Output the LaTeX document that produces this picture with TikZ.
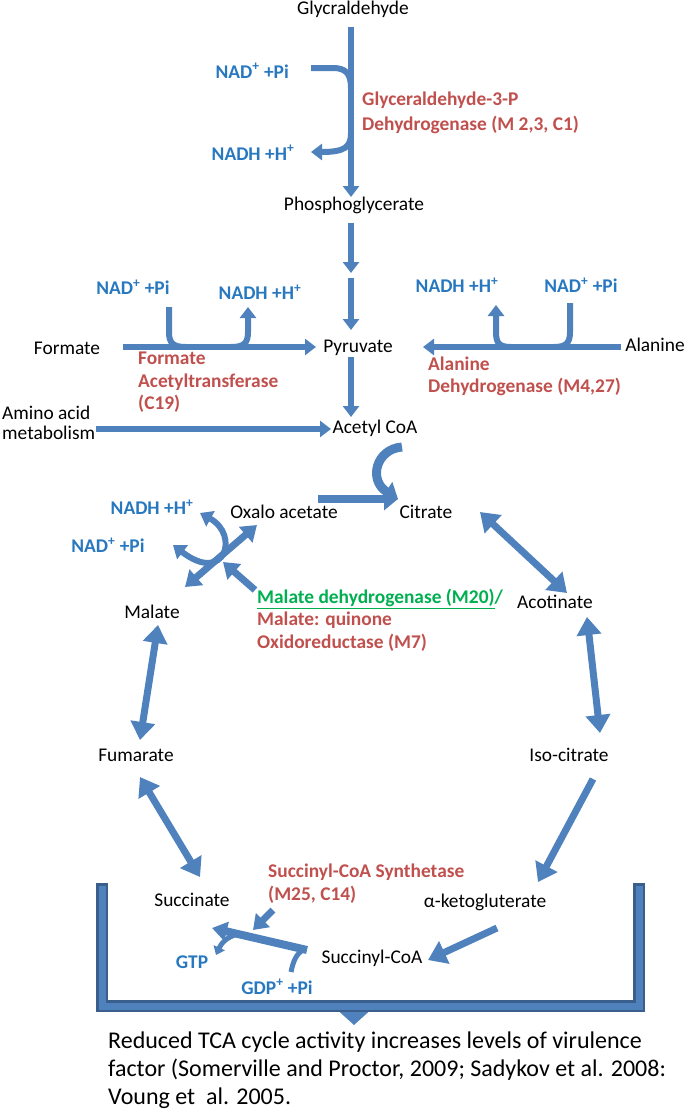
\documentclass[tikz,border=0pt]{standalone}
\usepackage{fontspec}
\setmainfont{Carlito}
\usepackage{xcolor}
\usetikzlibrary{arrows.meta}

\definecolor{arrblue}{HTML}{4F81BD}
\definecolor{brdark}{HTML}{3A5F8C}
\definecolor{cofblue}{HTML}{2878C0}
\definecolor{enzred}{HTML}{C0504D}
\definecolor{mdhgreen}{HTML}{00B050}

\tikzset{
  met/.style={font=\fontsize{19.4}{23}\selectfont, inner sep=0pt},
  cof/.style={font=\fontsize{19.4}{23}\selectfont\bfseries, text=cofblue, inner sep=0pt},
  enz/.style={font=\fontsize{19.4}{23}\selectfont\bfseries, text=enzred, inner sep=0pt, align=left, anchor=west},
  flow/.style={draw=arrblue, line width=6pt},
  arr/.style={flow, -{Triangle[width=16pt,length=11pt]}},
  mid/.style={draw=arrblue, line width=7pt, -{Triangle[width=20pt,length=15pt]}},
  midboth/.style={mid, {Triangle[width=20pt,length=15pt]}-{Triangle[width=20pt,length=15pt]}},
  big/.style={draw=arrblue, line width=7pt, -{Triangle[width=24pt,length=18pt]}},
  bigboth/.style={big, {Triangle[width=24pt,length=18pt]}-{Triangle[width=24pt,length=18pt]}},
}

\begin{document}
\begin{tikzpicture}[x=1pt,y=-1pt]
    \useasboundingbox (0,0) rectangle (685,1111);

    % Glycolysis
    \node[met] (glyc) at (353,9) {Glycraldehyde};
    \node[cof, anchor=east] (nadA) at (289,71) {NAD\textsuperscript{+} +Pi};
    \node[cof] (nadhA) at (253,153) {NADH +H\textsuperscript{+}};
    \node[enz, font=\fontsize{19.4}{25}\selectfont\bfseries] (gapdh) at (362,112.5) {Glyceraldehyde-3-P\\Dehydrogenase (M 2,3, C1)};
    \node[met] (phos) at (354,205) {Phosphoglycerate};

    \coordinate (g1) at (351,27);
    \coordinate (g2) at (351,197);
    \draw[arr] (g1) -- (g2);
    \coordinate (nadAin) at (311,68);
    \draw[flow] (nadAin) -- (333,68) .. controls (346,68) and (351,74) .. (351,88);
    \coordinate (nadhAout) at (311,152);
    \draw[arr] (351,133) .. controls (351,147) and (345,152) .. (nadhAout);

    \coordinate (p1) at (351,223);
    \coordinate (p2) at (351,273);
    \coordinate (p3) at (351,278);
    \coordinate (p4) at (351,330);
    \draw[arr] (p1) -- (p2);
    \draw[arr] (p3) -- (p4);

    % Pyruvate
    \node[cof] (nadB) at (133,287) {NAD\textsuperscript{+} +Pi};
    \node[cof] (nadhB) at (260,292) {NADH +H\textsuperscript{+}};
    \node[met] (form) at (67,348) {Formate};
    \node[met] (pyr) at (358,348) {Pyruvate};
    \node[enz, font=\fontsize{19.4}{22.5}\selectfont\bfseries] (fat) at (138,382.5) {Formate\\Acetyltransferase\\(C19)};
    \node[cof] (nadhC) at (457,285) {NADH +H\textsuperscript{+}};
    \node[cof] (nadC) at (581,285) {NAD\textsuperscript{+} +Pi};
    \node[met] (ala) at (655,345) {Alanine};
    \node[enz, font=\fontsize{19.4}{22}\selectfont\bfseries] (aladh) at (428,376) {Alanine\\Dehydrogenase (M4,27)};

    \coordinate (f1) at (123,347);
    \coordinate (f2) at (316,347);
    \draw[arr] (f1) -- (f2);
    \draw[flow] (169,307) -- (169,332) .. controls (169,343) and (173,347) .. (186,347);
    \draw[arr] (231,347) .. controls (244,347) and (248,343) .. (248,332) -- (248,307);

    \coordinate (a1) at (621,347);
    \coordinate (a2) at (423,347);
    \draw[arr] (a1) -- (a2);
    \draw[flow] (570,303) -- (570,332) .. controls (570,343) and (566,347) .. (554,347);
    \draw[arr] (511,347) .. controls (499,347) and (496,343) .. (496,332) -- (496,305);

    % Acetyl CoA
    \node[met, anchor=west, align=left, font=\fontsize{19.4}{20}\selectfont] (amino) at (2,423) {Amino acid\\metabolism};
    \node[met] (acoa) at (375,428) {Acetyl CoA};
    \coordinate (y1) at (351,357);
    \coordinate (y2) at (351,417);
    \draw[arr] (y1) -- (y2);
    \coordinate (m1) at (96,429);
    \coordinate (m2) at (331,429);
    \draw[arr] (m1) -- (m2);

    % TCA cycle
    \node[cof] (nadhD) at (152,507) {NADH +H\textsuperscript{+}};
    \node[cof] (nadD) at (108,545) {NAD\textsuperscript{+} +Pi};
    \node[met] (oaa) at (284,512) {Oxalo acetate};
    \node[met] (cit) at (426,512) {Citrate};
    \node[met] (mal) at (152,612) {Malate};
    \node[enz, font=\fontsize{19.4}{22.5}\selectfont\bfseries] (mdh) at (257,620) {\textcolor{mdhgreen}{\underline{Malate dehydrogenase (M20)}/}\\Malate: quinone\\Oxidoreductase (M7)};
    \node[met] (acon) at (555,602) {Acotinate};
    \node[met] (fum) at (136,755) {Fumarate};
    \node[met] (iso) at (569,755) {Iso-citrate};

    \coordinate (c0) at (398,499);
    \draw[draw=arrblue, line width=9pt, -{Triangle[width=22pt,length=14pt]}] (402,447) .. controls (376,449) and (368,480) .. (c0);
    \coordinate (o1) at (318,499);
    \draw[draw=arrblue, line width=8pt, -{Triangle[width=22pt,length=14pt]}] (o1) -- (c0);

    \coordinate (x1) at (185,587);
    \coordinate (x2) at (257,525);
    \draw[midboth] (x1) -- (x2);
    \coordinate (nadhDh) at (200,513);
    \coordinate (nadDh) at (173,545);
    \draw[flow, {Triangle[width=17pt,length=12pt]}-{Triangle[width=17pt,length=12pt]}] (nadhDh) .. controls (240,535) and (225,585) .. (nadDh);
    \coordinate (e1) at (255,590);
    \coordinate (e2) at (223,562);
    \draw[mid] (e1) -- (e2);

    \coordinate (ca) at (480,512);
    \coordinate (cb) at (567,593);
    \draw[bigboth] (ca) -- (cb);
    \coordinate (ac) at (587,617);
    \coordinate (ad) at (600,733);
    \draw[bigboth] (ac) -- (ad);
    \coordinate (ma) at (158,625);
    \coordinate (mb) at (140,740);
    \draw[bigboth] (ma) -- (mb);
    \coordinate (fa) at (140,777);
    \coordinate (fb) at (200,877);
    \draw[bigboth] (fa) -- (fb);
    \coordinate (ia) at (593,779);
    \coordinate (ib) at (538,882);
    \draw[big] (ia) -- (ib);
    \coordinate (ka) at (497,928);
    \coordinate (kb) at (428,960);
    \draw[big] (ka) -- (kb);

    % Bracket and outcome
    \draw[draw=arrblue, line width=10pt, -{Triangle[width=28pt,length=13pt]}] (354,1004) -- (354,1025);
    \draw[brdark, line width=12pt, line join=miter] (102,883) -- (102,1006) -- (639,1006) -- (639,883);
    \draw[arrblue, line width=7pt, line join=miter] (102,885.5) -- (102,1006) -- (639,1006) -- (639,885.5);

    \node[met] (succ) at (192,900) {Succinate};
    \node[enz, font=\fontsize{19.4}{23}\selectfont\bfseries] (scs) at (268,883.5) {Succinyl-CoA Synthetase\\(M25, C14)};
    \node[met] (akg) at (485,902) {α-ketogluterate};
    \node[met] (scoa) at (372,958) {Succinyl-CoA};
    \node[cof] (gtp) at (192,962) {GTP};
    \node[cof] (gdp) at (277,987) {GDP\textsuperscript{+} +Pi};

    \coordinate (s1) at (307,950);
    \coordinate (s2) at (212,928);
    \draw[draw=arrblue, line width=8pt, -{Triangle[width=19pt,length=15pt]}] (s1) -- (s2);
    \coordinate (z1) at (273,910);
    \coordinate (z2) at (253,930);
    \draw[draw=arrblue, line width=7pt, -{Triangle[width=19pt,length=14pt]}] (z1) -- (z2);
    \draw[draw=arrblue, line width=5pt] (291,972) .. controls (293,962) and (296,954) .. (303,950);
    \draw[draw=arrblue, line width=5pt, -{Triangle[width=12pt,length=8pt]}] (238,934) .. controls (226,937) and (221,944) .. (216,955);

    \node[anchor=west, align=left, font=\fontsize{24}{28}\selectfont, inner sep=0pt] (note) at (108,1070) {Reduced TCA cycle activity increases levels of virulence\\factor (Somerville and Proctor, 2009; Sadykov et al. 2008:\\Voung et\ \ al. 2005.};
\end{tikzpicture}
\end{document}
